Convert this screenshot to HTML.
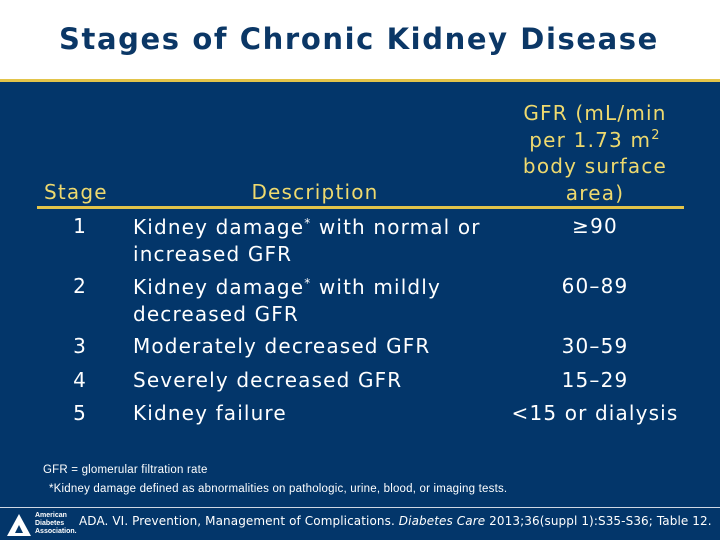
<!DOCTYPE html>
<html><head><meta charset="utf-8"><style>
body{margin:0;width:720px;height:540px;overflow:hidden;position:relative;background:#03366a;font-family:"DejaVu Sans",sans-serif}
.a{position:absolute;white-space:nowrap}
.w{color:#fff;font-size:20px;letter-spacing:1.15px}
.y{color:#eed96e;font-size:20px;letter-spacing:1.2px}
.c{transform:translateX(-50%);text-align:center}
</style></head><body>
<div class="a" style="left:0;top:0;width:720px;height:79px;background:#fff"></div>
<div class="a" style="left:0;top:79px;width:720px;height:3px;background:#e3c44a"></div>
<div class="a c" style="left:359px;top:22px;font-size:29px;font-weight:bold;color:#0b3766;letter-spacing:1.6px">Stages of Chronic Kidney Disease</div>
<div class="a y" style="left:44px;top:180px">Stage</div>
<div class="a y c" style="left:315px;top:180px">Description</div>
<div class="a y c" style="left:595px;top:100px;line-height:26.5px">GFR (mL/min<br>per 1.73 m<sup style="font-size:13px;vertical-align:8px;line-height:0">2</sup><br>body surface<br>area)</div>
<div class="a" style="left:37px;top:206px;width:647px;height:3px;background:#e3c44a"></div>
<div class="a w c" style="left:80px;top:214px">1</div>
<div class="a w" style="left:133px;top:214px;line-height:27px">Kidney damage<sup style="font-size:12px;vertical-align:7px;line-height:0">*</sup> with normal or<br>increased GFR</div>
<div class="a w c" style="left:595px;top:214px">≥90</div>
<div class="a w c" style="left:80px;top:274px">2</div>
<div class="a w" style="left:133px;top:274px;line-height:27px">Kidney damage<sup style="font-size:12px;vertical-align:7px;line-height:0">*</sup> with mildly<br>decreased GFR</div>
<div class="a w c" style="left:595px;top:274px">60–89</div>
<div class="a w c" style="left:80px;top:334px">3</div>
<div class="a w" style="left:133px;top:334px">Moderately decreased GFR</div>
<div class="a w c" style="left:595px;top:334px">30–59</div>
<div class="a w c" style="left:80px;top:368px">4</div>
<div class="a w" style="left:133px;top:368px">Severely decreased GFR</div>
<div class="a w c" style="left:595px;top:368px">15–29</div>
<div class="a w c" style="left:80px;top:401px">5</div>
<div class="a w" style="left:133px;top:401px">Kidney failure</div>
<div class="a w c" style="left:595px;top:401px">&lt;15 or dialysis</div>
<div class="a" style="left:43px;top:464px;color:#fff;font:11.5px 'Liberation Sans',sans-serif;letter-spacing:0.2px">GFR = glomerular filtration rate</div>
<div class="a" style="left:49px;top:483px;color:#fff;font:11.5px 'Liberation Sans',sans-serif;letter-spacing:0.2px">*Kidney damage defined as abnormalities on pathologic, urine, blood, or imaging tests.</div>
<div class="a" style="left:0;top:507px;width:720px;height:1px;background:#cfd8e4"></div>
<svg class="a" style="left:6px;top:513px" width="26" height="24"><polygon points="13,1 25,23 1,23" fill="#fff"/><polygon points="13,12 17,20 9,20" fill="#03366a"/></svg>
<div class="a" style="left:35px;top:512px;color:#fff;font:bold 7px/8px 'Liberation Sans',sans-serif">American<br>Diabetes<br>Association.</div>
<div class="a" style="left:79px;top:514px;color:#fff;font:12px 'DejaVu Sans',sans-serif;letter-spacing:0.1px">ADA. VI. Prevention, Management of Complications. <i>Diabetes Care</i> 2013;36(suppl 1):S35-S36; Table 12.</div>
</body></html>
